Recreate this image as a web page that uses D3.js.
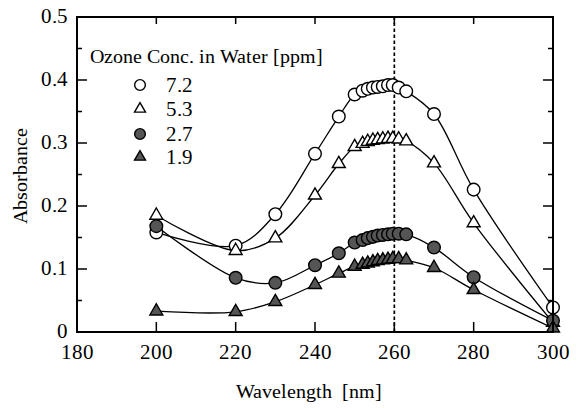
<!DOCTYPE html>
<html>
<head>
<meta charset="utf-8">
<script src="https://cdn.jsdelivr.net/npm/d3@7"></script>
<style>
  @font-face { font-family: "ChartSerif"; src: local("Liberation Serif"), local("LiberationSerif"), local("Times New Roman"); }
  body { margin: 0; background: #fff; }
  svg text { font-family: "ChartSerif", "Liberation Serif", "Times New Roman", serif; }
</style>
</head>
<body>
<script>
// data
var wavelength = [200, 220, 230, 240, 246, 250, 252, 253.3, 254.6, 255.8, 257.1, 258.4, 259.6, 261.1, 263, 270, 280, 300];
var conc72 = [0.158, 0.137, 0.187, 0.283, 0.342, 0.377, 0.383, 0.386, 0.388, 0.389, 0.390, 0.392, 0.392, 0.388, 0.382, 0.346, 0.226, 0.039];
var conc53 = [0.185, 0.129, 0.149, 0.217, 0.267, 0.294, 0.299, 0.302, 0.304, 0.305, 0.306, 0.307, 0.307, 0.306, 0.303, 0.268, 0.173, 0.015];
var conc27 = [0.168, 0.086, 0.078, 0.106, 0.125, 0.142, 0.146, 0.149, 0.151, 0.153, 0.154, 0.155, 0.156, 0.156, 0.155, 0.134, 0.087, 0.018];
var conc19 = [0.033, 0.032, 0.048, 0.075, 0.093, 0.104, 0.107, 0.109, 0.111, 0.113, 0.114, 0.115, 0.116, 0.116, 0.114, 0.102, 0.067, 0.006];
var seriesLabels = ["7.2", "5.3", "2.7", "1.9"];
var xTicks = [180, 200, 220, 240, 260, 280, 300];
var yTicks = [0, 0.1, 0.2, 0.3, 0.4, 0.5];
var peakLine = 260;

var w = 580, h = 408;
var svg = d3.select("body").append("svg")
  .attr("width", w)
  .attr("height", h);

var x = d3.scaleLinear().domain([180, 300]).range([77, 553]);
var y = d3.scaleLinear().domain([0, 0.5]).range([332, 17]);

// texts go in first, plot marks after
var textLayer = svg.append("g");
var plot = svg.append("g");

function label(size) {
  return textLayer.append("text")
    .attr("font-family", "Liberation Serif")
    .attr("font-size", size);
}

// series: values + marker style
var series = [
  {label: seriesLabels[0], values: conc72, shape: "circle", fill: "#fff"},
  {label: seriesLabels[1], values: conc53, shape: "triangle", fill: "#fff"},
  {label: seriesLabels[2], values: conc27, shape: "circle", fill: "#555"},
  {label: seriesLabels[3], values: conc19, shape: "triangle", fill: "#555"}
];

// tick labels
xTicks.forEach(function(d) {
  label(21).attr("x", x(d)).attr("y", 359)
    .attr("text-anchor", "middle")
    .text(d);
});
yTicks.forEach(function(d) {
  label(21).attr("x", 68).attr("y", y(d) + 6)
    .attr("text-anchor", "end")
    .text(d == 0 ? "0" : d3.format(".1f")(d));
});

// axis titles
label(20).attr("x", 309).attr("y", 398)
  .attr("text-anchor", "middle")
  .text("Wavelength\u00a0\u00a0[nm]");
label(20).attr("transform", "translate(27,176) rotate(-90)")
  .attr("text-anchor", "middle")
  .text("Absorbance");

// legend texts
var legendY = [85, 109, 134, 157];
label(20).attr("x", 90).attr("y", 63).text("Ozone Conc. in Water [ppm]");
series.forEach(function(s, i) {
  label(21).attr("x", 166).attr("y", legendY[i] + 7).text(s.label);
});

// dashed line at 260 nm
plot.append("line")
  .attr("x1", x(peakLine)).attr("x2", x(peakLine))
  .attr("y1", y(0)).attr("y2", y(0.5))
  .attr("stroke", "#000")
  .attr("stroke-width", 1.7)
  .attr("stroke-dasharray", "3.5,2.5");

// curves
var line = d3.line()
  .x(function(d) { return x(d[0]); })
  .y(function(d) { return y(d[1]); })
  .curve(d3.curveCatmullRom.alpha(0.5));

series.forEach(function(s) {
  var pts = wavelength.map(function(wl, i) { return [wl, s.values[i]]; });
  plot.append("path")
    .attr("d", line(pts))
    .attr("fill", "none")
    .attr("stroke", "#000")
    .attr("stroke-width", 1.3);
});

function marker(g, shape, fill, size) {
  if (shape == "circle") {
    g.append("circle").attr("r", Math.sqrt(size / Math.PI));
  } else {
    g.append("path").attr("d", d3.symbol(d3.symbolTriangle, size * 0.58)());
  }
  g.selectAll("circle,path")
    .attr("fill", fill)
    .attr("stroke", "#000")
    .attr("stroke-width", 1.4);
}

// markers
series.forEach(function(s) {
  wavelength.forEach(function(wl, i) {
    var g = plot.append("g")
      .attr("transform", "translate(" + x(wl) + "," + y(s.values[i]) + ")");
    marker(g, s.shape, s.fill, 125);
  });
});

// legend symbols
series.forEach(function(s, i) {
  var g = plot.append("g").attr("transform", "translate(140," + legendY[i] + ")");
  marker(g, s.shape, s.fill, 90);
});

// frame
plot.append("rect")
  .attr("x", x(180)).attr("y", y(0.5))
  .attr("width", x(300) - x(180)).attr("height", y(0) - y(0.5))
  .attr("fill", "none")
  .attr("stroke", "#000")
  .attr("stroke-width", 2);

// x ticks, bottom and top (inward)
var xInner = xTicks.filter(function(d) { return d > 180 && d < 300; });
plot.append("g").selectAll("line").data(xInner).enter().append("line")
  .attr("x1", function(d) { return x(d); }).attr("x2", function(d) { return x(d); })
  .attr("y1", y(0)).attr("y2", y(0) - 10)
  .attr("stroke", "#000").attr("stroke-width", 1.5);
plot.append("g").selectAll("line").data(xInner).enter().append("line")
  .attr("x1", function(d) { return x(d); }).attr("x2", function(d) { return x(d); })
  .attr("y1", y(0.5)).attr("y2", y(0.5) + 7)
  .attr("stroke", "#000").attr("stroke-width", 1.5);

// y ticks left and right, with minor ticks
var yMinor = d3.range(0.05, 0.5, 0.1);
[x(180), x(300)].forEach(function(px, k) {
  var dir = k == 0 ? 1 : -1;
  plot.append("g").selectAll("line").data(yTicks.slice(1, -1)).enter().append("line")
    .attr("x1", px).attr("x2", px + dir * 10)
    .attr("y1", function(d) { return y(d); }).attr("y2", function(d) { return y(d); })
    .attr("stroke", "#000").attr("stroke-width", 1.5);
  plot.append("g").selectAll("line").data(yMinor).enter().append("line")
    .attr("x1", px).attr("x2", px + dir * 5)
    .attr("y1", function(d) { return y(d); }).attr("y2", function(d) { return y(d); })
    .attr("stroke", "#000").attr("stroke-width", 1.5);
});
</script>
</body>
</html>
